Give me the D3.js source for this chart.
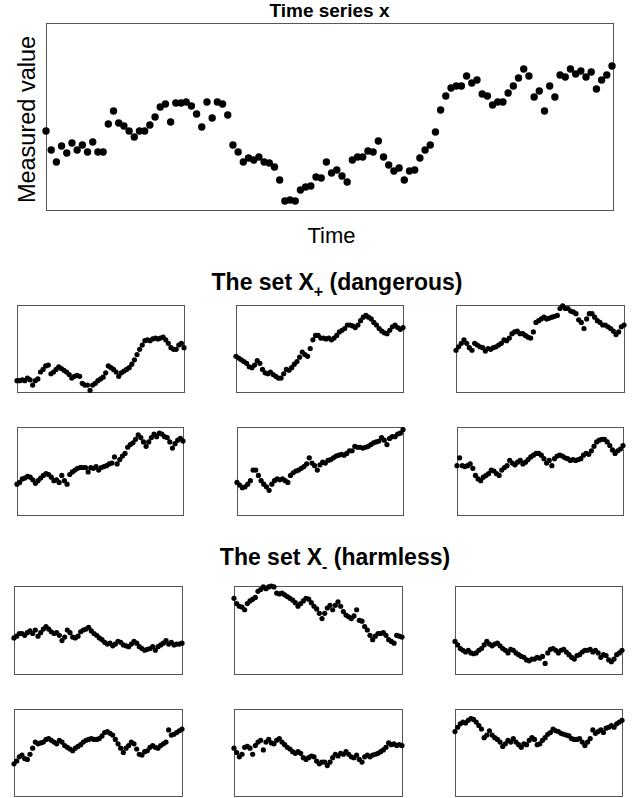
<!DOCTYPE html>
<head>
  <meta charset="utf-8">
  <script src="https://d3js.org/d3.v7.min.js"></script>
  <style>
    body { margin:0; background:#fff; }
    svg { display:block; }
    text { font-family: "Liberation Sans", Arial, sans-serif; fill:#000; }
  </style>
</head>
<body>
  <svg width="636" height="798"></svg>
  <script>
    // main series (arbitrary units)
    var mainSeries = [7.9,6.0,4.8,6.4,5.7,6.7,6.0,6.5,5.8,6.8,5.8,5.8,8.6,9.9,8.7,8.4,7.9,7.3,7.9,7.9,
      8.5,9.3,10.3,10.6,8.8,10.7,10.7,10.8,10.4,9.6,8.3,10.8,9.2,10.8,10.6,9.5,6.5,5.8,4.8,5.2,
      5.0,5.3,4.8,4.7,4.3,3.0,0.9,1.0,0.9,2.0,2.3,2.4,3.3,3.2,4.8,3.7,4.0,3.4,2.8,5.0,
      5.3,5.3,5.9,5.8,6.9,5.3,4.5,3.9,4.2,3.0,3.9,4.0,5.2,6.0,6.5,7.8,10.0,11.4,12.2,12.4,
      12.4,13.4,12.7,13.0,11.6,11.4,10.5,10.8,10.8,11.7,12.4,13.2,14.1,13.4,11.3,11.9,9.9,12.4,11.3,13.5,
      13.3,14.1,13.6,13.9,13.3,13.8,12.1,13.0,13.5,14.4];

    // the set X+ (dangerous), values as % of panel height
    var dangerous1 = [13,13,14,13,16,14,8,13,15,23,26,30,31,21,23,26,29,27,25,23,20,16,18,19,18,10,8,8,2,8,10,13,15,17,22,30,28,26,23,18,22,24,26,28,32,37,43,49,54,59,60,59,61,62,61,62,63,60,56,51,49,49,54,56,51];
    var dangerous2 = [41,39,37,35,33,29,28,31,36,33,26,22,21,23,20,18,16,16,21,26,25,28,32,35,40,46,43,41,50,60,65,65,62,62,61,62,60,62,65,69,71,73,77,77,76,74,77,82,86,88,86,84,80,77,73,70,68,67,71,75,77,74,72,74];
    var dangerous3 = [48,52,56,60,56,51,48,56,54,52,51,47,50,49,51,52,54,56,60,59,62,67,69,70,67,67,65,63,62,69,80,82,84,86,84,85,86,87,88,96,99,96,96,93,92,90,83,80,73,84,90,90,86,82,80,77,77,75,73,70,66,69,75,77];
    var dangerous4 = [35,37,41,42,44,43,40,36,39,42,45,47,46,43,39,40,37,45,39,35,46,49,51,53,54,54,54,49,54,53,55,51,54,55,56,58,59,66,58,63,67,70,77,80,82,86,91,88,83,78,83,88,92,89,93,92,89,88,83,76,81,85,87,84];
    var dangerous5 = [37,34,31,32,35,39,51,51,45,39,35,32,28,35,39,41,40,41,39,37,45,48,50,51,53,55,58,65,59,56,51,57,60,59,62,63,65,67,68,69,68,70,73,73,78,77,77,76,77,78,80,82,83,84,88,85,80,87,89,89,92,93,97];
    var dangerous6 = [56,65,56,55,56,58,53,45,41,39,43,45,47,51,50,47,45,51,54,56,62,59,57,60,62,58,60,63,66,68,70,70,68,64,59,62,56,64,67,68,67,65,64,62,63,62,63,64,68,70,69,73,78,83,85,86,86,83,79,74,70,73,75,79];

    // the set X- (harmless)
    var harmless1 = [41,43,46,46,44,47,49,46,50,43,47,51,54,51,48,46,47,44,38,42,50,47,42,41,43,48,50,51,53,49,46,44,41,39,36,34,35,32,34,37,36,33,32,31,34,37,35,31,29,27,28,29,31,27,31,33,35,38,34,36,33,34,34,35];
    var harmless2 = [86,80,77,76,73,80,83,85,87,94,96,99,97,99,100,99,92,91,92,90,88,86,84,81,77,80,83,86,85,81,77,74,69,63,69,75,78,73,78,82,77,71,67,65,63,66,73,61,60,54,50,44,39,43,46,46,47,44,39,37,35,44,43,42];
    var harmless3 = [37,33,29,27,25,27,24,23,24,27,29,33,37,34,32,34,35,32,29,27,24,28,27,24,22,20,19,16,15,17,17,19,18,20,12,24,28,29,27,24,27,28,25,22,19,17,21,22,25,27,27,28,25,27,24,19,22,21,16,14,17,22,24,27];
    var harmless4 = [37,40,45,47,43,42,48,55,62,60,61,62,65,66,64,62,60,64,62,58,56,54,52,55,57,59,62,64,65,66,65,65,66,69,73,74,72,70,65,60,55,50,55,58,62,60,54,48,47,51,52,56,58,56,55,58,60,62,76,70,71,73,75,77];
    var harmless5 = [55,50,45,48,56,57,55,48,58,62,64,53,62,65,61,60,64,66,62,59,56,54,51,49,51,49,44,42,44,46,45,40,37,39,39,35,39,44,48,46,49,48,51,48,45,44,47,42,39,45,47,45,47,48,49,51,53,56,61,59,60,58,59,58];
    var harmless6 = [74,79,83,85,84,87,89,88,85,81,77,67,70,75,70,67,65,62,57,60,64,62,66,62,59,56,60,59,64,67,65,59,60,64,67,71,73,77,75,74,72,71,70,69,66,65,65,66,62,58,62,66,76,72,74,76,73,78,79,81,79,83,85,87];

    var svg = d3.select('svg');
    var boxStroke = '#555';

    // ---- main chart ----
    var main = {left: 46, right: 613, top: 23, bottom: 210};
    var xMain = d3.scaleLinear()
      .domain([0, mainSeries.length - 1])
      .range([main.left, main.right - 1]);
    var yMain = d3.scaleLinear()
      .domain([0, 18.7])
      .range([main.bottom, main.top]);

    svg.append('rect')
      .attr('x', main.left + 0.5).attr('y', main.top + 0.5)
      .attr('width', main.right - main.left).attr('height', main.bottom - main.top)
      .attr('fill', 'none').attr('stroke', boxStroke).attr('stroke-width', 1);

    svg.append('g').selectAll('circle')
      .data(mainSeries)
      .enter().append('circle')
      .attr('cx', (d, i) => xMain(i))
      .attr('cy', d => yMain(d))
      .attr('r', 3.7)
      .attr('fill', '#000');

    svg.append('text')
      .attr('x', (main.left + main.right) / 2).attr('y', 17)
      .attr('text-anchor', 'middle')
      .style('font-size', '19px').style('font-weight', 'bold')
      .text('Time series x');

    svg.append('text')
      .attr('x', (main.left + main.right) / 2 + 2).attr('y', 243)
      .attr('text-anchor', 'middle')
      .style('font-size', '22px')
      .text('Time');

    svg.append('text')
      .attr('transform', 'translate(35,' + ((main.top + main.bottom) / 2 + 3) + ') rotate(-90)')
      .attr('text-anchor', 'middle')
      .style('font-size', '23.5px')
      .text('Measured value');

    // ---- small panels ----
    var panels = [
      {data: dangerous1, x0: 17,  x1: 184, y0: 305, y1: 392},
      {data: dangerous2, x0: 236, x1: 403, y0: 305, y1: 392},
      {data: dangerous3, x0: 456, x1: 624, y0: 305, y1: 392},
      {data: dangerous4, x0: 17,  x1: 183, y0: 427, y1: 515},
      {data: dangerous5, x0: 237, x1: 403, y0: 427, y1: 515},
      {data: dangerous6, x0: 457, x1: 623, y0: 427, y1: 515},
      {data: harmless1,  x0: 14,  x1: 182, y0: 586, y1: 674},
      {data: harmless2,  x0: 234, x1: 402, y0: 586, y1: 674},
      {data: harmless3,  x0: 455, x1: 622, y0: 586, y1: 674},
      {data: harmless4,  x0: 14,  x1: 182, y0: 709, y1: 796},
      {data: harmless5,  x0: 234, x1: 402, y0: 709, y1: 796},
      {data: harmless6,  x0: 455, x1: 622, y0: 709, y1: 796}
    ];

    panels.forEach(p => {
      var x = d3.scaleLinear().domain([0, p.data.length - 1]).range([p.x0, p.x1]);
      var y = d3.scaleLinear().domain([0, 100]).range([p.y1, p.y0]);
      var g = svg.append('g');
      g.append('rect')
        .attr('x', p.x0 + 0.5).attr('y', p.y0 + 0.5)
        .attr('width', p.x1 - p.x0).attr('height', p.y1 - p.y0)
        .attr('fill', 'none').attr('stroke', boxStroke).attr('stroke-width', 1);
      g.selectAll('circle')
        .data(p.data)
        .enter().append('circle')
        .attr('cx', (d, i) => x(i))
        .attr('cy', d => y(d))
        .attr('r', 2.6)
        .attr('fill', '#000');
    });

    // set titles with subscripts
    function setTitle(xPos, yPos, sub, rest) {
      var t = svg.append('text')
        .attr('x', xPos).attr('y', yPos)
        .attr('text-anchor', 'middle')
        .style('font-size', '23px').style('font-weight', 'bold');
      t.append('tspan').text('The set X');
      t.append('tspan').attr('dy', 7).style('font-size', '16px').text(sub);
      t.append('tspan').attr('dy', -7).text(rest);
    }
    setTitle(337, 290, '+', ' (dangerous)');
    setTitle(335, 565, '-', ' (harmless)');
  </script>
</body>
